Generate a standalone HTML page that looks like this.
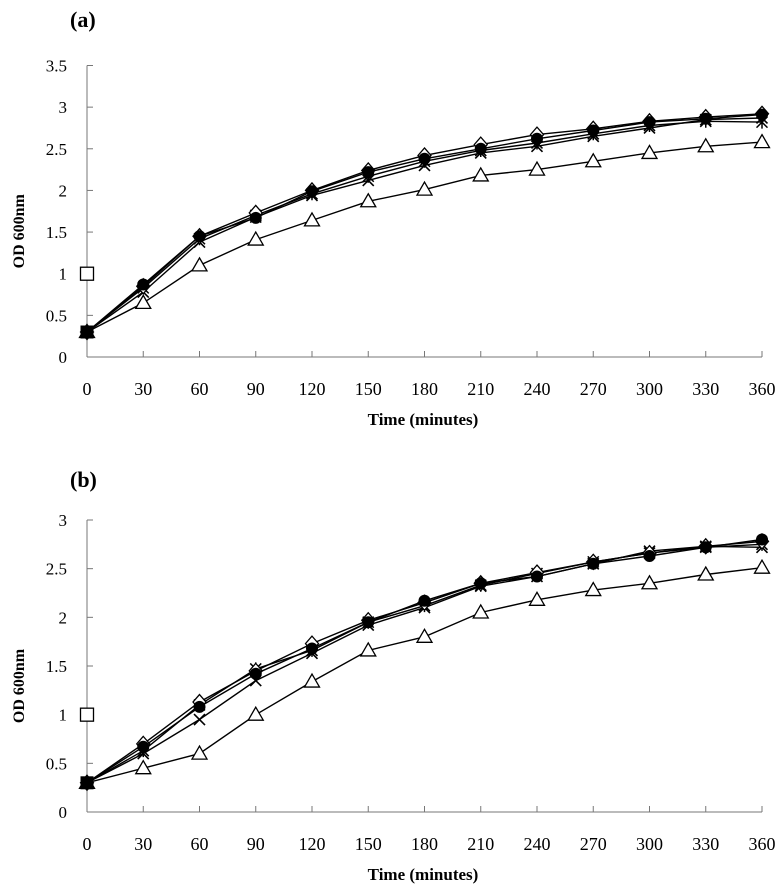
<!DOCTYPE html>
<html><head><meta charset="utf-8">
<style>
html,body{margin:0;padding:0;background:#fff;}
svg{display:block;font-family:"Liberation Serif",serif;}
</style></head>
<body>
<svg id="fig" width="780" height="889" viewBox="0 0 780 889" xmlns="http://www.w3.org/2000/svg"></svg>
<script>
const times = [0,30,60,90,120,150,180,210,240,270,300,330,360];
const xTicks = [0,30,60,90,120,150,180,210,240,270,300,330,360];
// Panel (a)
const aCircle   = [0.3,0.87,1.45,1.67,1.99,2.22,2.38,2.50,2.62,2.72,2.82,2.86,2.91];
const aDiamond  = [0.3,0.85,1.45,1.73,2.00,2.24,2.42,2.55,2.67,2.74,2.83,2.88,2.92];
const aCross    = [0.3,0.78,1.38,1.68,1.94,2.12,2.30,2.45,2.53,2.65,2.75,2.85,2.87];
const aStar     = [0.3,0.83,1.42,1.70,1.96,2.17,2.35,2.48,2.57,2.68,2.78,2.83,2.82];
const aTriangle = [0.3,0.65,1.10,1.41,1.64,1.87,2.01,2.18,2.25,2.35,2.45,2.53,2.58];
const aYTicks = [0,0.5,1,1.5,2,2.5,3,3.5];
// Panel (b)
const bCircle   = [0.3,0.67,1.08,1.42,1.68,1.95,2.17,2.35,2.42,2.55,2.63,2.72,2.80];
const bDiamond  = [0.3,0.70,1.13,1.45,1.73,1.97,2.15,2.35,2.46,2.57,2.66,2.73,2.78];
const bCross    = [0.3,0.60,0.95,1.35,1.63,1.92,2.10,2.32,2.42,2.55,2.68,2.73,2.72];
const bStar     = [0.3,0.63,1.10,1.47,1.66,1.95,2.12,2.33,2.45,2.57,2.66,2.72,2.75];
const bTriangle = [0.3,0.45,0.60,1.00,1.34,1.66,1.80,2.05,2.18,2.28,2.35,2.44,2.51];
const bYTicks = [0,0.5,1,1.5,2,2.5,3];
// single-point series at t=0
const filledSquare = [0.3];
const openSquare = [1.0];

const NS = "http://www.w3.org/2000/svg";
const svg = document.getElementById('fig');
function mk(tag, attrs, parent){
  const e = document.createElementNS(NS, tag);
  for (const k in attrs) e.setAttribute(k, attrs[k]);
  (parent||svg).appendChild(e);
  return e;
}
function marker(g, type, cx, cy){
  let m;
  if (type==='circle'){ m = mk('circle',{cx:cx,cy:cy,r:6,fill:'#000'},g); }
  else if (type==='diamond'){ m = mk('polygon',{points:`${cx},${cy-7.5} ${cx+6.5},${cy} ${cx},${cy+7.5} ${cx-6.5},${cy}`,fill:'#fff',stroke:'#000','stroke-width':1.3},g); }
  else if (type==='triangle'){ m = mk('polygon',{points:`${cx},${cy-7.5} ${cx+7.5},${cy+5.5} ${cx-7.5},${cy+5.5}`,fill:'#fff',stroke:'#000','stroke-width':1.3},g); }
  else if (type==='cross'){ m = mk('path',{d:`M${cx-5.5} ${cy-5.5}L${cx+5.5} ${cy+5.5}M${cx+5.5} ${cy-5.5}L${cx-5.5} ${cy+5.5}`,stroke:'#000','stroke-width':1.6},g); }
  else if (type==='star'){ m = mk('path',{d:`M${cx-5.5} ${cy-5.5}L${cx+5.5} ${cy+5.5}M${cx+5.5} ${cy-5.5}L${cx-5.5} ${cy+5.5}M${cx} ${cy-6.5}L${cx} ${cy+6.5}`,stroke:'#000','stroke-width':1.5},g); }
  else if (type==='fsquare'){ m = mk('rect',{x:cx-6.5,y:cy-6.5,width:13,height:13,fill:'#000'},g); }
  else { m = mk('rect',{x:cx-6.5,y:cy-6.5,width:13,height:13,fill:'#fff',stroke:'#000','stroke-width':1.3},g); }
  
  
}
function panel(id, label, labelY, y0, y1, yMax, yTicks, series){
  const x0 = 87, x1 = 762;
  const X = t => x0 + (t/360)*(x1-x0);
  const Y = v => y0 - (v/yMax)*(y0-y1);
  const g = mk('g',{});
  
  
  const pl = mk('text',{x:70,y:labelY,'font-size':22,'font-weight':'bold'},g);
  pl.textContent = label;
  
  
  const ya = mk('line',{x1:x0,y1:y1,x2:x0,y2:y0,stroke:'#777','stroke-width':1},g);
  
  
  const xa = mk('line',{x1:x0,y1:y0,x2:x1,y2:y0,stroke:'#777','stroke-width':1},g);
  
  
  yTicks.forEach(v=>{
    mk('line',{x1:x0,y1:Y(v),x2:x0+6,y2:Y(v),stroke:'#777'},g);
    const t = mk('text',{x:x0-20,y:Y(v)+6,'font-size':17,'text-anchor':'end'},g);
    t.textContent = v;
    
    
  });
  xTicks.forEach(v=>{
    mk('line',{x1:X(v),y1:y0,x2:X(v),y2:y0-6,stroke:'#777'},g);
    const t = mk('text',{x:X(v),y:y0+38,'font-size':18,'text-anchor':'middle'},g);
    t.textContent = v;
    
    
  });
  const xt = mk('text',{x:423,y:y0+68,'font-size':17,'font-weight':'bold','text-anchor':'middle'},g);
  xt.textContent = 'Time (minutes)';
  
  
  const yc = (y0+y1)/2 + 20;
  const yt = mk('text',{x:0,y:0,'font-size':16,'font-weight':'bold','text-anchor':'middle',transform:`translate(24,${yc}) rotate(-90)`},g);
  yt.textContent = 'OD 600nm';
  
  
  series.forEach(s=>{
    const sg = mk('g',{},g);
    
    
    const d = s.vals.map((v,i)=>(i?'L':'M')+X(times[i]).toFixed(1)+' '+Y(v).toFixed(1)).join('');
    if (s.vals.length>1){
      const p = mk('path',{d:d,fill:'none',stroke:'#000','stroke-width':1.4},sg);
      
      
    }
    s.vals.forEach((v,i)=>marker(sg, s.type, X(times[i]), Y(v)));
  });
}
panel('a','(a)',27,357,65.5,3.5,aYTicks,[
  {type:'triangle',vals:aTriangle},{type:'cross',vals:aCross},{type:'star',vals:aStar},
  {type:'diamond',vals:aDiamond},{type:'circle',vals:aCircle},
  {type:'fsquare',vals:filledSquare},{type:'osquare',vals:openSquare}]);
panel('b','(b)',487,812,520,3,bYTicks,[
  {type:'triangle',vals:bTriangle},{type:'cross',vals:bCross},{type:'star',vals:bStar},
  {type:'diamond',vals:bDiamond},{type:'circle',vals:bCircle},
  {type:'fsquare',vals:filledSquare},{type:'osquare',vals:openSquare}]);
</script>
</body></html>
